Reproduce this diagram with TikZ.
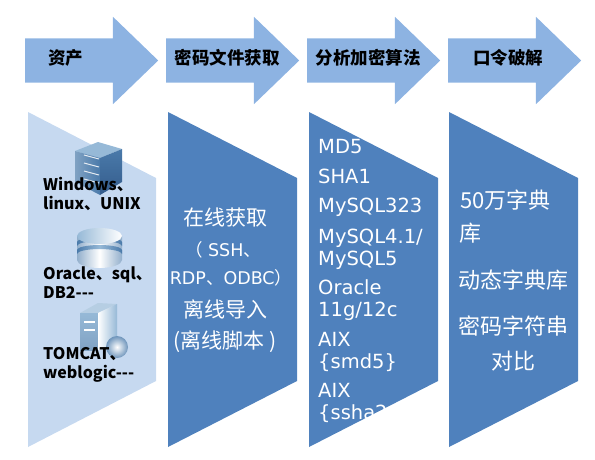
\documentclass[tikz,border=0pt]{standalone}
\usepackage{fontspec}
\setmainfont{DejaVu Sans}
\newfontfamily\cjk{Noto Sans CJK SC}
\usepackage{xcolor}
\usetikzlibrary{shapes.arrows,positioning}
\definecolor{arrowblue}{RGB}{141,179,226}
\definecolor{darkpanel}{RGB}{79,129,189}
\definecolor{lightpanel}{RGB}{198,217,240}
\definecolor{steelblue}{RGB}{74,122,170}
\definecolor{steeldark}{RGB}{52,92,140}
\definecolor{steellight}{RGB}{150,185,215}
\tikzset{
  headarrow/.style={single arrow, draw=none, fill=arrowblue, inner sep=0pt, anchor=tail,
                    text height=44pt, text depth=0pt, minimum height=133pt,
                    single arrow head extend=21.5pt, single arrow head indent=0pt,
                    single arrow tip angle=88},
  headtext/.style={font=\cjk\bfseries\fontsize{17.5}{20}\selectfont, inner sep=0pt},
  zhtext/.style={text=white, align=center, inner sep=0pt,
                 font=\cjk\fontsize{21}{24}\selectfont},
  bigzh/.style={zhtext, font=\cjk\fontsize{22}{35}\selectfont},
  smalltext/.style={zhtext, font=\fontsize{17.5}{19}\selectfont},
  algotext/.style={text=white, align=left, anchor=west, inner sep=0pt,
                   font=\fontsize{19.5}{22}\selectfont},
  hosttext/.style={align=left, anchor=west, inner sep=0pt,
                   font=\cjk\bfseries\fontsize{16}{19}\selectfont}
}
\begin{document}
\begin{tikzpicture}[x=1pt,y=-1pt]
  \useasboundingbox (0,0) rectangle (595,459);
  % top row
  \node[headarrow] (asset) at (25,60.5) {};
  \node[headarrow] (fetch) at (166,60.5) {};
  \node[headarrow] (algo) at (307,60.5) {};
  \node[headarrow] (crack) at (448,60.5) {};
  \node[headtext] (assetlabel) at (66,58) {资产};
  \node[headtext] (fetchlabel) at (227,58) {密码文件获取};
  \node[headtext] (algolabel) at (368,58) {分析加密算法};
  \node[headtext] (cracklabel) at (508,58) {口令破解};
  % panels
  \fill[lightpanel] (28,112) -- (156,178) -- (156,381) -- (28,447) -- cycle;
  \foreach \x in {168,309,449}
    \fill[darkpanel] (\x,112) -- (\x+129,178) -- (\x+129,381) -- (\x,447) -- cycle;
  % server
  \fill[steellight] (75,151) -- (98,142) -- (122,149) -- (100,158) -- cycle;
  \shade[left color=steelblue!70, right color=steelblue] (75,151) -- (100,158) -- (100,195) -- (75,182) -- cycle;
  \shade[top color=steelblue, bottom color=steeldark] (100,158) -- (122,149) -- (122,182) -- (100,195) -- cycle;
  \foreach \y in {0,8,16,24}
    \draw[white!85!steelblue, line width=1pt] (84,155+\y) -- (99,159+\y);
  % database
  \shade[left color=steelblue!60, right color=steelblue!60, middle color=white] (77,236) -- (77,260) arc[start angle=180, end angle=360, x radius=22.5pt, y radius=8pt] -- (122,236) -- cycle;
  \foreach \y in {242,250}
    \shade[left color=steelblue, right color=steelblue, middle color=steellight] (77,\y) arc[start angle=180, end angle=360, x radius=22.5pt, y radius=-5pt] -- ++(0,4) arc[start angle=360, end angle=180, x radius=22.5pt, y radius=-5pt] -- cycle;
  \shade[left color=steellight, right color=white] (99.5,236) ellipse[x radius=22.5pt, y radius=8pt];
  % web server
  \fill[steellight!70!white] (80,313) -- (98,303) -- (117,304) -- (98,313) -- cycle;
  \shade[top color=steellight, bottom color=steelblue!70] (80,313) rectangle (98,350);
  \shade[left color=white, right color=steellight] (98,313) -- (117,304) -- (117,345) -- (98,350) -- cycle;
  \draw[white, line width=1.5pt] (84,322) -- (95,322);
  \draw[white, line width=1.5pt] (84,330) -- (95,330);
  \shade[inner color=white, outer color=steelblue!80] (117,347) circle[radius=11pt];
  % first panel labels
  \node[hosttext] (os) at (43,194) {Windows、\\linux、UNIX};
  \node[hosttext] (db) at (43,283) {Oracle、sql、\\DB2---};
  \node[hosttext] (web) at (43,365) {TOMCAT、\\weblogic---};
  % second panel labels
  \node[zhtext] (online) at (225,218) {在线获取};
  \node[smalltext] (ssh) at (223,250) {{\cjk（} SSH{\cjk 、}};
  \node[smalltext] (rdp) at (231,278) {RDP{\cjk 、}ODBC{\cjk ）}};
  \node[zhtext] (offline) at (225,309) {离线导入};
  \node[zhtext] (script) at (225,342) {(离线脚本 )};
  % third panel labels
  \node[algotext] (md) at (318,147) {MD5};
  \node[algotext] (sha) at (318,176) {SHA1};
  \node[algotext] (mysqlold) at (318,207) {MySQL323};
  \node[algotext] (mysql) at (318,249) {MySQL4.1/\\MySQL5};
  \node[algotext] (oracle) at (318,300) {Oracle\\11g/12c};
  \node[algotext] (smd) at (318,352) {AIX\\\{smd5\}};
  \node[algotext] (ssha) at (318,403) {AIX\\\{ssha2};
  % fourth panel labels
  \node[bigzh, anchor=west] (dict) at (460,200) {50万字典};
  \node[bigzh, anchor=west] (dictend) at (459,233) {库};
  \node[bigzh] (dynamic) at (513,280) {动态字典库};
  \node[bigzh] (compare) at (513,344) {密码字符串\\对比};
\end{tikzpicture}
\end{document}
